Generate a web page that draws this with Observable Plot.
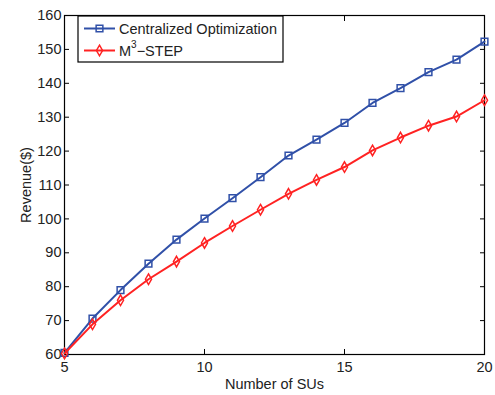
<!DOCTYPE html>
<html><head><meta charset="utf-8">
<script src="https://cdn.jsdelivr.net/npm/d3@7"></script>
<script src="https://cdn.jsdelivr.net/npm/@observablehq/plot@0.6"></script>
<style>body{margin:0;background:#fff}</style>
</head><body><div id="chart"></div>
<script>
const numSUs = [5,6,7,8,9,10,11,12,13,14,15,16,17,18,19,20];
const centralized = [60.5,70.6,79.0,86.8,93.9,100.1,106.1,112.3,118.7,123.4,128.3,134.2,138.6,143.3,147.0,152.3];
const m3step = [60.3,68.9,76.0,82.2,87.4,92.9,97.9,102.7,107.4,111.5,115.3,120.2,124.0,127.5,130.2,135.0];
const xTicks = [5,10,15,20];
const yTicks = [60,70,80,90,100,110,120,130,140,150,160];
const blue = "#3050a8", red = "#ff2222";
const font = "'Liberation Sans', Arial, sans-serif";

const cData = numSUs.map((n,i)=>({n, v: centralized[i]}));
const mData = numSUs.map((n,i)=>({n, v: m3step[i]}));

const chart = Plot.plot({
  width: 495, height: 395,
  marginLeft: 64, marginRight: 11, marginTop: 15, marginBottom: 41,
  style: {fontFamily: font, fontSize: "14.5px", color: "#222", background: "#fff"},
  x: {domain: [5, 20]},
  y: {domain: [60, 160]},
  marks: [
    Plot.axisX(xTicks, {tickSize: 0, tickPadding: 7, label: "Number of SUs", labelAnchor: "center", labelOffset: 34, labelArrow: "none"}),
    Plot.axisX(xTicks, {tickSize: 5, dy: -5, tickFormat: () => "", label: null, stroke: "#000"}),
    Plot.axisX(xTicks, {anchor: "top", tickSize: 5, dy: 5, tickFormat: () => "", label: null, stroke: "#000"}),
    Plot.axisY(yTicks, {tickSize: 0, tickPadding: 3, label: "Revenue($)", labelAnchor: "center", labelOffset: 44, labelArrow: "none"}),
    Plot.axisY(yTicks, {tickSize: 5, dx: 5, tickFormat: () => "", label: null, stroke: "#000"}),
    Plot.axisY(yTicks, {anchor: "right", tickSize: 5, dx: -5, tickFormat: () => "", label: null, stroke: "#000"}),
    Plot.frame({stroke: "#000", strokeWidth: 1.2}),
    Plot.line(cData, {x: "n", y: "v", stroke: blue, strokeWidth: 2}),
    Plot.dot(cData, {x: "n", y: "v", symbol: "square", r: 3.8, stroke: blue, strokeWidth: 1.5, fill: "none"}),
    Plot.line(mData, {x: "n", y: "v", stroke: red, strokeWidth: 2}),
    Plot.dot(mData, {x: "n", y: "v", symbol: "diamond", r: 3.2, stroke: red, strokeWidth: 1.5, fill: "none"})
  ]
});
document.getElementById("chart").appendChild(chart);

// Legend (MATLAB-style box, top-left inside the axes)
const svg = d3.select(chart);
const lg = svg.append("g").attr("font-family", font).attr("font-size", 14.5).attr("fill", "#222")
  .attr("text-anchor", "start");
lg.append("rect").attr("x", 78).attr("y", 16).attr("width", 205).attr("height", 46)
  .attr("fill", "#fff").attr("stroke", "#000").attr("stroke-width", 1.2);
const items = [
  {color: blue, sym: d3.symbolSquare, size: Math.PI*3.8*3.8, y: 28.5},
  {color: red, sym: d3.symbolDiamond, size: Math.PI*3.2*3.2, y: 50.5}
];
items.forEach((it, i) => {
  lg.append("line").attr("x1", 84).attr("x2", 115).attr("y1", it.y).attr("y2", it.y)
    .attr("stroke", it.color).attr("stroke-width", 2);
  lg.append("path").attr("d", d3.symbol(it.sym, it.size)()).attr("transform", `translate(99.5,${it.y})`)
    .attr("stroke", it.color).attr("stroke-width", 1.5).attr("fill", "none");
  const t = lg.append("text").attr("x", 119).attr("y", it.y).attr("dy", "0.36em");
  if (i === 0) t.text("Centralized Optimization");
  else {
    t.append("tspan").text("M");
    t.append("tspan").attr("font-size", 10).attr("dy", "-0.75em").text("3");
    t.append("tspan").attr("dy", "0.52em").text("\u2212STEP");
  }
});
</script>
</body></html>
